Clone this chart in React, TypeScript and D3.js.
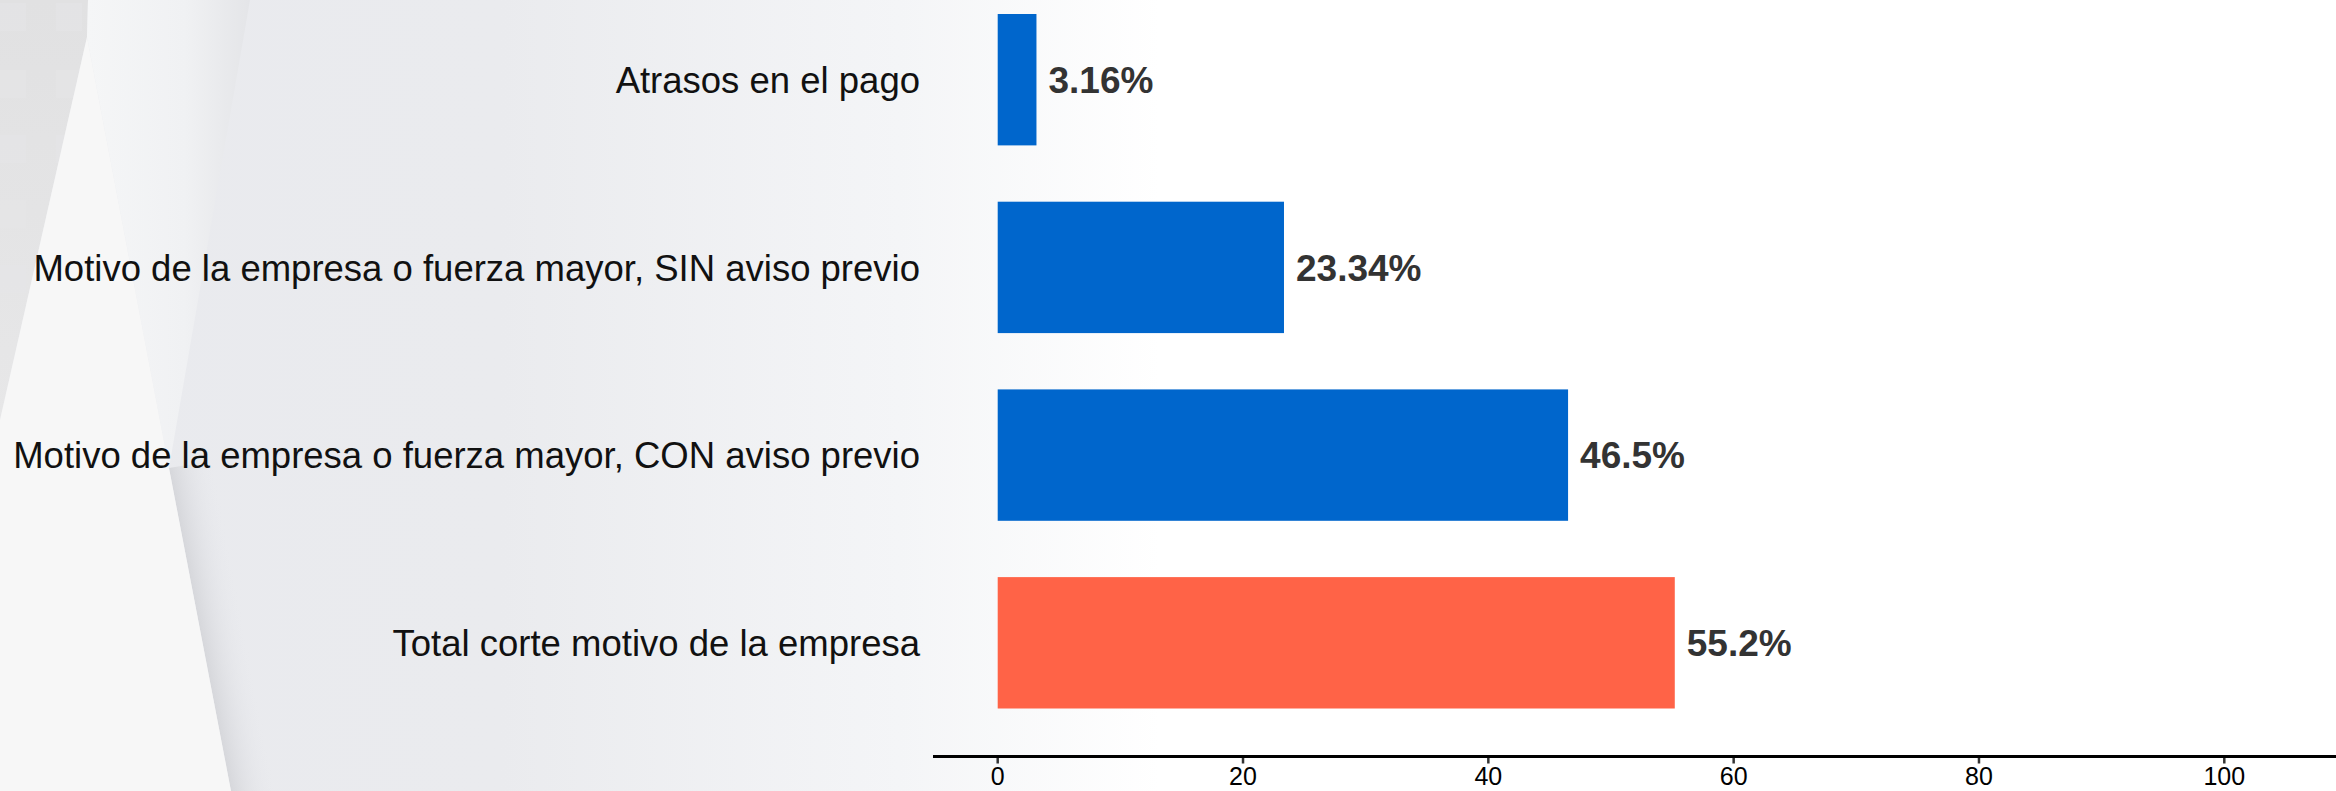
import React from "react";
import * as d3 from "d3";

const categories = [
  "Atrasos en el pago",
  "Motivo de la empresa o fuerza mayor, SIN aviso previo",
  "Motivo de la empresa o fuerza mayor, CON aviso previo",
  "Total corte motivo de la empresa",
];
const values = [3.16, 23.34, 46.5, 55.2];
const valueLabels = ["3.16%", "23.34%", "46.5%", "55.2%"];
const barColors = ["#0066CC", "#0066CC", "#0066CC", "#FF6347"];
const tickValues = [0, 20, 40, 60, 80, 100];

const W = 2336;
const H = 791;

export default function App() {
  const x = d3.scaleLinear().domain([0, 100]).range([997.7, 2224.3]);
  const y = d3
    .scaleBand<string>()
    .domain(categories)
    .range([14, 708.5])
    .paddingInner(0.3)
    .paddingOuter(0);
  const axisY = 756.5;
  const font = "'Liberation Sans', Arial, Helvetica, sans-serif";

  // shadow along the triangle's right edge
  const ex = 169, ey = 468;
  const dx = 1, dy = -0.19;
  const len = Math.hypot(dx, dy);
  const sx2 = ex + (45 * dx) / len;
  const sy2 = ey + (45 * dy) / len;

  return (
    <svg
      width={W}
      height={H}
      style={{ position: "absolute", left: 0, top: 0, display: "block" }}
      xmlns="http://www.w3.org/2000/svg"
    >
      <defs>
        <linearGradient id="bg" x1="0" y1="0" x2={W} y2="0" gradientUnits="userSpaceOnUse">
          <stop offset={0} stopColor="#e9eaee" />
          <stop offset={500 / W} stopColor="#eaebee" />
          <stop offset={900 / W} stopColor="#f4f5f7" />
          <stop offset={1160 / W} stopColor="#ffffff" />
          <stop offset={1} stopColor="#ffffff" />
        </linearGradient>
        <linearGradient id="page" x1="88" y1="0" x2="250" y2="0" gradientUnits="userSpaceOnUse">
          <stop offset={0} stopColor="#f5f6f7" />
          <stop offset={0.6} stopColor="#f0f1f3" />
          <stop offset={1} stopColor="#e4e5e8" />
        </linearGradient>
        <linearGradient id="strip" x1="0" y1="0" x2="0" y2="420" gradientUnits="userSpaceOnUse">
          <stop offset={0} stopColor="#e1e1e2" />
          <stop offset={1} stopColor="#e7e7e8" />
        </linearGradient>
        <linearGradient id="shadow" x1={ex} y1={ey} x2={sx2} y2={sy2} gradientUnits="userSpaceOnUse">
          <stop offset={0} stopColor="#d6d7db" />
          <stop offset={1} stopColor="#e9eaee" stopOpacity={0} />
        </linearGradient>
      </defs>

      {/* background */}
      <rect x={0} y={0} width={W} height={H} fill="url(#bg)" />
      <polygon points="0,0 88,0 87,37 0,420" fill="url(#strip)" />
      {[3, 70, 135, 200, 265].map((ry) =>
        [0, 56].map((rx) => (
          <rect key={`${rx}-${ry}`} x={rx} y={ry} width={26} height={28} fill="#e6e6e7" opacity={0.5} />
        ))
      )}
      <polygon points="88,0 250,0 169,468 87,37" fill="url(#page)" />
      <polygon points={`${ex},${ey} 231,${H} 300,${H} 230,${ey - 10}`} fill="url(#shadow)" />
      <polygon points={`87,37 169,468 231,${H} 0,${H} 0,420`} fill="#f7f7f7" />

      {/* category labels */}
      {categories.map((c) => (
        <text
          key={c}
          x={920}
          y={(y(c) as number) + y.bandwidth() / 2}
          dy="0.36em"
          textAnchor="end"
          fontFamily={font}
          fontSize={36.5}
          fill="#111"
        >
          {c}
        </text>
      ))}

      {/* bars */}
      {categories.map((c, i) => (
        <rect
          key={c}
          x={x(0)}
          y={y(c) as number}
          width={x(values[i]) - x(0)}
          height={y.bandwidth()}
          fill={barColors[i]}
        />
      ))}

      {/* value labels */}
      {categories.map((c, i) => (
        <text
          key={c}
          x={x(values[i]) + 12}
          y={(y(c) as number) + y.bandwidth() / 2}
          dy="0.36em"
          fontFamily={font}
          fontWeight="bold"
          fontSize={37}
          fill="#333"
        >
          {valueLabels[i]}
        </text>
      ))}

      {/* x axis */}
      <line x1={933} x2={W} y1={axisY} y2={axisY} stroke="#000" strokeWidth={3} />
      {tickValues.map((t) => (
        <g key={t} transform={`translate(${x(t)},0)`}>
          <line y1={axisY + 1.5} y2={axisY + 7} stroke="#333" strokeWidth={2.5} />
          <text
            y={785}
            textAnchor="middle"
            fontFamily={font}
            fontSize={25}
            fill="#000"
          >
            {t}
          </text>
        </g>
      ))}
    </svg>
  );
}
